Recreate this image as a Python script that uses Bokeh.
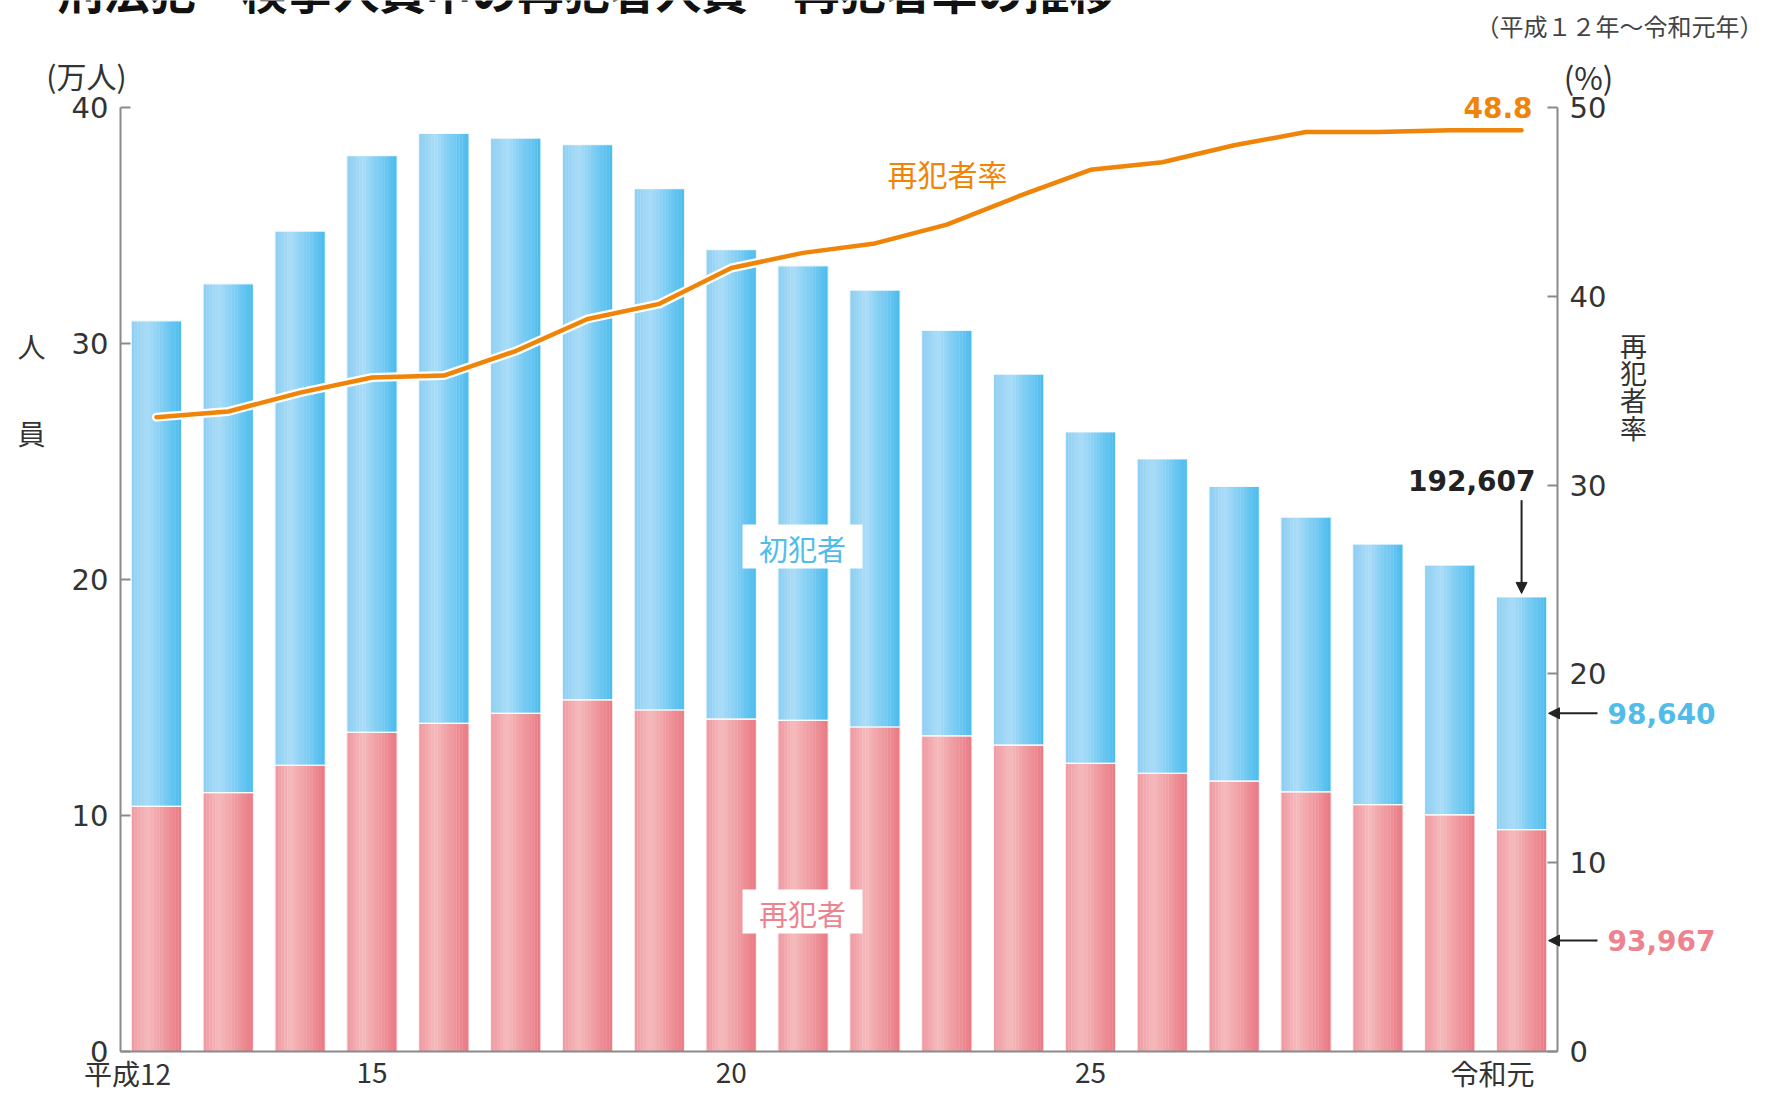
import numpy as np
from bokeh.plotting import figure
from bokeh.models import (Range1d, LinearAxis, FixedTicker, Label, LabelSet,
                          Arrow, NormalHead, ColumnDataSource)
from bokeh.embed import file_html
from bokeh.resources import INLINE
from bokeh.core.properties import value

# ---------------- data ----------------
years = ["平成12", "13", "14", "15", "16", "17", "18", "19", "20", "21",
         "22", "23", "24", "25", "26", "27", "28", "29", "30", "令和元"]
# 検挙人員 total (万人)
total = [30.96, 32.53, 34.76, 37.96, 38.90, 38.70, 38.43, 36.56, 33.98, 33.29,
         32.26, 30.56, 28.70, 26.25, 25.11, 23.94, 22.64, 21.50, 20.61, 19.26]
# 再犯者 (万人)
repeat = [10.39, 10.97, 12.13, 13.52, 13.90, 14.33, 14.90, 14.47, 14.08, 14.03,
          13.75, 13.37, 12.98, 12.21, 11.79, 11.46, 11.00, 10.46, 10.03, 9.40]
# 再犯者率 (%)
rate = [33.6, 33.9, 34.9, 35.7, 35.8, 37.1, 38.8, 39.6, 41.5, 42.3,
        42.8, 43.8, 45.3, 46.7, 47.1, 48.0, 48.7, 48.7, 48.8, 48.8]
tick_idx = [0, 3, 8, 13, 19]
tick_text = ["平成12", "15", "20", "25", "令和元"]
left_ticks = [0, 10, 20, 30, 40]
right_ticks = [0, 10, 20, 30, 40, 50]
last_total, last_first, last_repeat = 192607, 98640, 93967
last_rate_text = "48.8"

idx = list(range(len(years)))

# ---------------- geometry ----------------
W, H = 1772, 1093
AXL, AXR, AXT, AXB = 120, 1557, 107, 1051   # axis box in page pixels
PX = (AXR - AXL) / 20.0      # px per x unit
PY = (AXB - AXT) / 40.0      # px per left-y unit


def fx(X):  # page pixel -> data x
    return (X - AXL) / PX - 0.5


def fy(Y):  # page pixel -> data y (left axis units)
    return (AXB - Y) / PY


RK = 50 / 40.0
p = figure(width=W, height=H, output_backend="svg", toolbar_location=None,
           x_range=Range1d(fx(0), fx(W)), y_range=Range1d(fy(H), fy(0)),
           min_border=0, min_border_left=0, min_border_right=0,
           min_border_top=0, min_border_bottom=0,
           background_fill_color="white", border_fill_color="white")
p.title.visible = False
p.outline_line_color = None
p.xgrid.visible = False
p.ygrid.visible = False
p.extra_y_ranges = {"rate": Range1d(fy(H) * RK, fy(0) * RK)}

AX = "#8a8a8a"
TXT = "#333333"
NUMF = "DejaVu Sans"
JPF = "Noto Sans CJK JP"


def style_axis(a):
    a.axis_line_color = AX
    a.axis_line_width = 2
    a.major_tick_in = 10
    a.major_tick_out = 0
    a.major_tick_line_color = AX
    a.major_tick_line_width = 2
    a.minor_tick_line_color = None
    a.major_label_text_font = NUMF
    a.major_label_text_font_size = "29px"
    a.major_label_text_color = TXT
    a.major_label_standoff = 12


# left axis
ya = p.yaxis[0]
ya.ticker = FixedTicker(ticks=left_ticks)
style_axis(ya)
ya.fixed_location = -0.5
ya.bounds = (0, 40)

# bottom axis (line only)
xa = p.xaxis[0]
xa.ticker = FixedTicker(ticks=[])
style_axis(xa)
xa.major_tick_line_color = None
xa.major_label_text_font_size = "0px"
xa.fixed_location = 0
xa.bounds = (-0.5, 19.5)

# right axis
ra = LinearAxis(y_range_name="rate", ticker=FixedTicker(ticks=right_ticks))
style_axis(ra)
ra.fixed_location = 19.5
ra.bounds = (0, 50)
p.add_layout(ra, "right")

# ---------------- gradient bars ----------------
def interp(stops, t):
    for (t0, c0), (t1, c1) in zip(stops[:-1], stops[1:]):
        if t0 <= t <= t1:
            f = (t - t0) / (t1 - t0)
            c = [int(round(a + (b - a) * f)) for a, b in zip(c0, c1)]
            return "#%02x%02x%02x" % tuple(c)
    return "#%02x%02x%02x" % tuple(stops[-1][1])


blue_stops = [(0.0, (140, 206, 242)), (0.32, (170, 220, 247)), (1.0, (74, 188, 238))]
red_stops = [(0.0, (238, 152, 160)), (0.32, (245, 186, 188)), (1.0, (233, 121, 131))]

BW = 0.70
N = 16
for k in range(N):
    t = (k + 0.5) / N
    off = -BW / 2 + (k + 0.5) * BW / N
    xs = [i + off for i in idx]
    p.vbar(x=xs, width=BW / N * 1.1, bottom=0, top=repeat,
           fill_color=interp(red_stops, t), line_color=None)
    p.vbar(x=xs, width=BW / N * 1.1, bottom=repeat, top=total,
           fill_color=interp(blue_stops, t), line_color=None)

p.vbar(x=idx, width=BW, bottom=0, top=repeat, fill_color=None,
       line_color="white", line_width=1.2, line_alpha=0.8)
p.vbar(x=idx, width=BW, bottom=repeat, top=total, fill_color=None,
       line_color="white", line_width=1.2, line_alpha=0.8)

# ---------------- rate line ----------------
ORANGE = "#ef8408"
p.line(x=idx, y=rate, y_range_name="rate", line_color="white",
       line_width=9, line_join="round", line_cap="round")
p.line(x=idx, y=rate, y_range_name="rate", line_color=ORANGE,
       line_width=4.5, line_join="round", line_cap="round")

# ---------------- boxes for series names ----------------
BLUE_T = "#52bce9"
PINK_T = "#ee8390"
p.rect(x=[fx(802), fx(802)], y=[fy(546), fy(911)], width=120, height=44,
       width_units="screen", height_units="screen", fill_color="white",
       line_color=None)


def lab(text, X, Y, size, color=TXT, font=JPF, align="center",
        baseline="middle", style="normal"):
    p.add_layout(Label(x=fx(X), y=fy(Y), text=text, text_font=font,
                       text_font_size=size, text_color=color,
                       text_align=align, text_baseline=baseline,
                       text_font_style=style))


lab("初犯者", 802, 547, "29px", BLUE_T)
lab("再犯者", 802, 912, "29px", PINK_T)

# title (cut off at top in the reference)
lab("刑法犯　検挙人員中の再犯者人員・再犯者率の推移", 57, 21, "46px", "#111111",
    align="left", baseline="bottom", style="bold")
lab("（平成１２年～令和元年）", 1619, 25, "24px", "#444444")
lab("(万人)", 86, 74, "30px")
lab("(%)", 1588, 76, "31px")
lab("人", 31, 345, "28px")
lab("員", 31, 432, "28px")
for ch, Y in zip("再犯者率", [345, 372, 399, 427]):
    lab(ch, 1633, Y, "27px")

lab("再犯者率", 947, 172, "30px", ORANGE)
p.add_layout(Label(x=fx(1532), y=rate[-1] / RK + 0.95, text=last_rate_text,
                   text_font=NUMF, text_font_size="28px",
                   text_color=ORANGE, text_align="right",
                   text_baseline="middle", text_font_style="bold"))

# value annotations for the last year
last = idx[-1]
p.add_layout(Label(x=fx(1535), y=total[-1] + 4.95, text=f"{last_total:,}",
                   text_font=NUMF, text_font_size="28px",
                   text_color="#222222", text_align="right",
                   text_baseline="middle", text_font_style="bold"))
p.add_layout(Arrow(x_start=last, y_start=total[-1] + 4.1, x_end=last,
                   y_end=total[-1] + 0.15, line_color="#222222", line_width=2,
                   end=NormalHead(size=11, fill_color="#222222",
                                  line_color="#222222")))

mid_first = repeat[-1] + (total[-1] - repeat[-1]) / 2
mid_rep = repeat[-1] / 2
for yv, txt, col in [(mid_first, f"{last_first:,}", BLUE_T),
                     (mid_rep, f"{last_repeat:,}", PINK_T)]:
    p.add_layout(Arrow(x_start=fx(1597), y_start=yv, x_end=fx(1548), y_end=yv,
                       line_color="#222222", line_width=2,
                       end=NormalHead(size=11, fill_color="#222222",
                                      line_color="#222222")))
    p.add_layout(Label(x=fx(1607), y=yv, text=txt, text_font=NUMF,
                       text_font_size="28px", text_color=col,
                       text_align="left", text_baseline="middle",
                       text_font_style="bold"))

# x-axis labels
xsrc = ColumnDataSource(dict(
    x=tick_idx, y=[fy(1072)] * len(tick_idx), text=tick_text,
    off=[-29 if len(s) > 2 else 0 for s in tick_text]))
p.add_layout(LabelSet(x="x", y="y", text="text", x_offset="off", source=xsrc,
                      text_font=value(JPF), text_font_size=value("28px"),
                      text_color=value(TXT), text_align=value("center"),
                      text_baseline=value("middle")))

open("out.html", "w").write(file_html(p, INLINE))
